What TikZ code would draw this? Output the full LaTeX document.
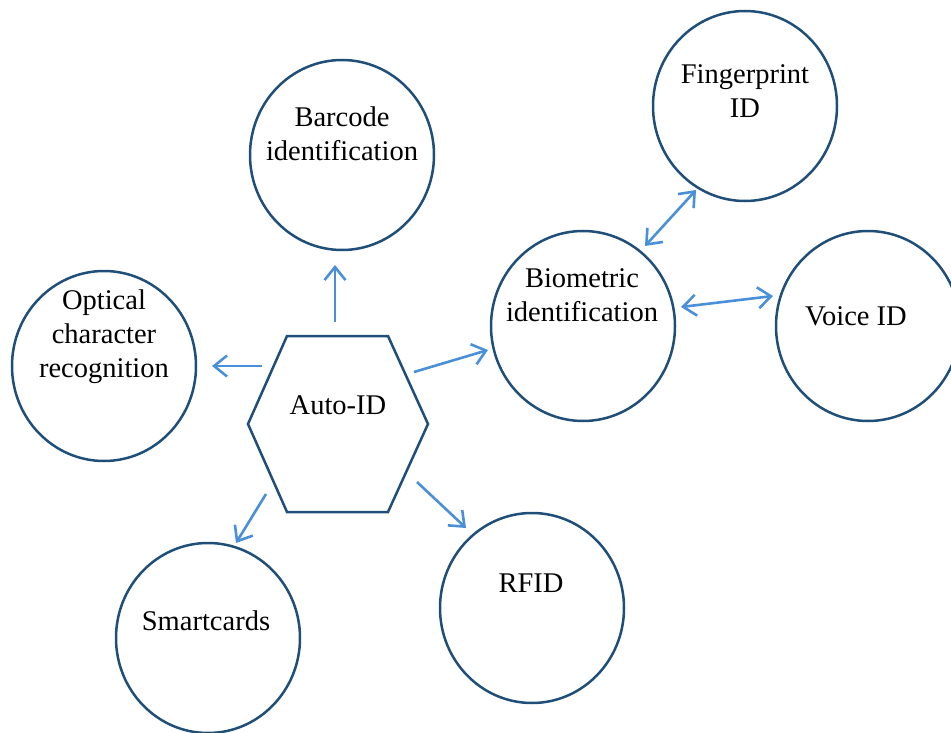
\documentclass[tikz,border=0pt]{standalone}
\usepackage{fontspec}
\setmainfont{Liberation Serif}
\usetikzlibrary{shapes.geometric,arrows.meta}
\definecolor{edgec}{HTML}{1F4E79}
\definecolor{arrowc}{HTML}{4A90D9}
\begin{document}
\begin{tikzpicture}[x=1pt,y=-1pt,
  circ/.style={draw=edgec, line width=2.5pt, ellipse, minimum width=184pt, minimum height=190pt, inner sep=0pt},
  lbl/.style={align=center, font=\fontsize{28.5}{34}\selectfont, inner sep=0pt},
  tipc/.tip={Straight Barb[length=13pt,width=21pt,line width=2.6pt]},
  arr/.style={draw=arrowc, line width=2.6pt, -tipc},
  darr/.style={draw=arrowc, line width=2.6pt, tipc-tipc}]
\useasboundingbox (0,0) rectangle (951,733);
% ellipses
\node[circ] (barcode) at (342,155) {};
\node[circ] (finger) at (745,106) {};
\node[circ] (ocr) at (104,366) {};
\node[circ] (bio) at (583,326) {};
\node[circ] (voice) at (868,326) {};
\node[circ] (smart) at (208,638) {};
\node[circ] (rfid) at (532,608) {};
% hexagon
\coordinate (h1) at (287,336);
\coordinate (h2) at (388,336);
\coordinate (h3) at (428,424);
\coordinate (h4) at (388,512);
\coordinate (h5) at (287,512);
\coordinate (h6) at (248,424);
\draw[edgec, line width=2.5pt, line join=miter] (h1) -- (h2) -- (h3) -- (h4) -- (h5) -- (h6) -- cycle;
% labels
\node[lbl] (tbarcode) at (342,134) {Barcode\\identification};
\node[lbl] (tfinger) at (745,91) {Fingerprint\\ID};
\node[lbl] (tocr) at (104,337) {Optical\\character\\recognition};
\node[lbl] (tbio) at (582,295) {Biometric\\identification};
\node[lbl] (tvoice) at (856,316) {Voice ID};
\node[lbl] (tauto) at (338,405) {Auto-ID};
\node[lbl] (tsmart) at (206,621) {Smartcards};
\node[lbl] (trfid) at (531,583) {RFID};
% arrow end points
\coordinate (a1s) at (335,322); \coordinate (a1e) at (335,265);
\coordinate (a2s) at (262,366); \coordinate (a2e) at (212,366);
\coordinate (a3s) at (414,372); \coordinate (a3e) at (488,350);
\coordinate (a4s) at (266,494); \coordinate (a4e) at (236,543);
\coordinate (a5s) at (417,482); \coordinate (a5e) at (466,528);
\coordinate (b1s) at (645,246); \coordinate (b1e) at (696,190);
\coordinate (b2s) at (681,307); \coordinate (b2e) at (773,296);
\draw[arr] (a1s) -- (a1e);
\draw[arr] (a2s) -- (a2e);
\draw[arr] (a3s) -- (a3e);
\draw[arr] (a4s) -- (a4e);
\draw[arr] (a5s) -- (a5e);
\draw[darr] (b1s) -- (b1e);
\draw[darr] (b2s) -- (b2e);
\end{tikzpicture}
\end{document}
